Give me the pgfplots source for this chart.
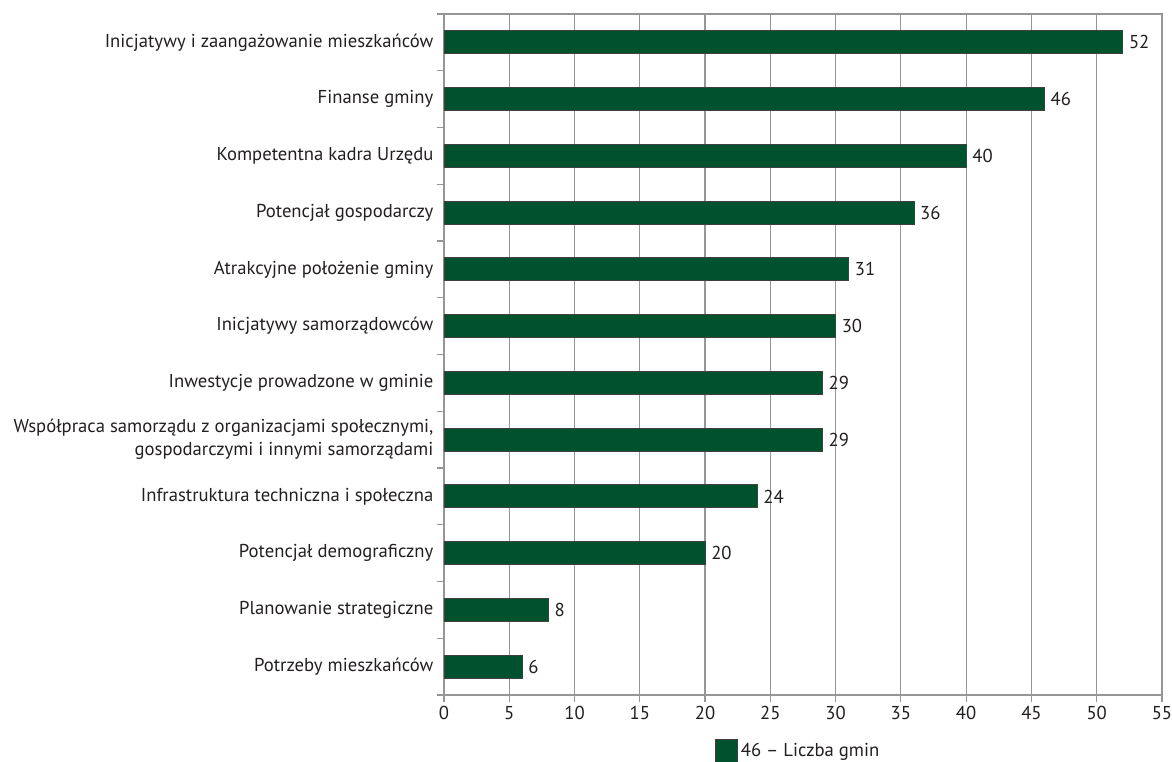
\documentclass[border=0pt]{standalone}
\usepackage{pgfplots}
\pgfplotsset{compat=1.18}
\usepackage{fontspec}
\setmainfont{PT Sans}
\definecolor{barc}{RGB}{0,81,46}
\definecolor{gridc}{RGB}{150,150,150}
\definecolor{txt}{RGB}{35,31,32}
\begin{document}
\begin{tikzpicture}
\begin{axis}[
  scale only axis, width=538.5pt, height=510.75pt,
  xbar, bar width=17.25pt,
  xmin=0, xmax=55, ymin=-0.5, ymax=11.5,
  xtick={0,5,...,55}, xmajorgrids,
  grid style={gridc, line width=0.9pt},
  axis line style={gridc, line width=0.9pt},
  tick style={gridc, line width=0.9pt},
  tick align=outside, major tick length=5.25pt,
  xtick pos=bottom, ytick pos=left,
  ytick={-0.5,0.5,...,11.5}, yticklabels={},
  extra y ticks={0,1,2,3,4,5,6,7,8,9,10,11},
  extra y tick style={tick style={draw=none}, yticklabel style={align=right}},
  extra y tick labels={
    Potrzeby mieszkańców,
    Planowanie strategiczne,
    Potencjał demograficzny,
    Infrastruktura techniczna i społeczna,
    {Współpraca samorządu z organizacjami społecznymi,\\gospodarczymi i innymi samorządami},
    Inwestycje prowadzone w gminie,
    Inicjatywy samorządowców,
    Atrakcyjne położenie gminy,
    Potencjał gospodarczy,
    Kompetentna kadra Urzędu,
    Finanse gminy,
    Inicjatywy i zaangażowanie mieszkańców},
  ticklabel style={font={\fontsize{14}{17.25}\selectfont}, text=txt},
  yticklabel style={inner sep=2.5pt},
  /pgf/number format/assume math mode=true,
  nodes near coords,
  nodes near coords style={font={\fontsize{14}{16}\selectfont}, text=txt, anchor=west, xshift=1pt},
  legend style={at={(0.494,0)}, anchor=north, yshift=-33pt, draw=none,
    font={\fontsize{14}{16}\selectfont}, text=txt, inner sep=0pt},
  legend cell align=left,
  legend image code/.code={\draw[#1] (0pt,-8.5pt) rectangle (16.5pt,8.5pt);},
]
\addplot[fill=barc, draw=black!75, line width=0.6pt] coordinates {
  (6,0) (8,1) (20,2) (24,3) (29,4) (29,5) (30,6) (31,7) (36,8) (40,9) (46,10) (52,11)
};
\addlegendentry{46 – Liczba gmin}
\end{axis}
\pgfresetboundingbox
\path[use as bounding box] (-333pt,-50.25pt) rectangle (546pt,521.25pt);
\end{tikzpicture}
\end{document}
